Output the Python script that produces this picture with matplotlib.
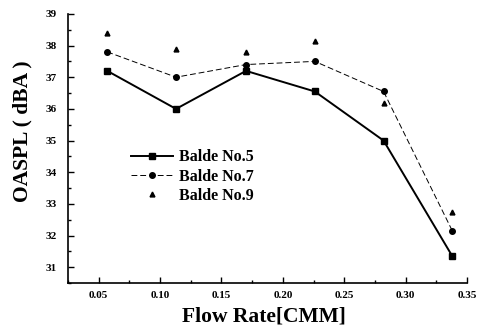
import matplotlib
matplotlib.use("Agg")
import matplotlib.pyplot as plt
from matplotlib.ticker import MultipleLocator

flow = [0.057, 0.113, 0.170, 0.226, 0.282, 0.338]
blade5 = [37.2, 36.0, 37.2, 36.55, 35.0, 31.35]
blade7 = [37.8, 37.0, 37.4, 37.5, 36.55, 32.15]
blade9 = [38.4, 37.9, 37.8, 38.15, 36.2, 32.75]
labels = ["Balde No.5", "Balde No.7", "Balde No.9"]

plt.rcParams['font.family'] = ['Liberation Serif', 'DejaVu Serif']
plt.rcParams['font.weight'] = 'bold'

fig = plt.figure(figsize=(4.82, 3.30), dpi=100)
ax = fig.add_axes([0.141, 0.142, 0.828, 0.816])

ax.plot(flow, blade5, '-s', color='black', lw=1.4, ms=4, label=labels[0])
ax.plot(flow, blade7, '--o', color='black', lw=0.7, ms=4, dashes=(6, 3), label=labels[1])
ax.plot(flow, blade9, '^', color='black', ms=3.5, linestyle='none', label=labels[2])

ax.set_xlim(0.025, 0.35)
ax.set_ylim(30.5, 39)
ax.xaxis.set_major_locator(MultipleLocator(0.05))
ax.xaxis.set_minor_locator(MultipleLocator(0.025))
ax.yaxis.set_major_locator(MultipleLocator(1))
ax.yaxis.set_minor_locator(MultipleLocator(0.5))
ax.set_xticks([0.05, 0.10, 0.15, 0.20, 0.25, 0.30, 0.35])
ax.set_xticklabels(["0.05", "0.10", "0.15", "0.20", "0.25", "0.30", "0.35"])
ax.tick_params(which='both', direction='in', labelsize=8, width=1)
ax.tick_params(which='major', length=4)
ax.tick_params(which='minor', length=2)
ax.tick_params(axis='y', pad=8)
ax.tick_params(axis='x', pad=6)
for lab in ax.get_xticklabels() + ax.get_yticklabels():
    lab.set_fontweight('bold')

ax.spines['top'].set_visible(False)
ax.spines['right'].set_visible(False)
ax.spines['left'].set_linewidth(1.2)
ax.spines['bottom'].set_linewidth(1.2)

ax.set_xlabel("Flow Rate[CMM]", fontsize=15.5, fontweight='bold', va='center')
ax.xaxis.set_label_coords(0.49, -0.123)
ax.set_ylabel("OASPL ( dBA )", fontsize=15.5, fontweight='bold', va='center')
ax.yaxis.set_label_coords(-0.115, 0.565)

leg = ax.legend(loc='upper left', bbox_to_anchor=(0.122, 0.55), frameon=False,
                prop={'weight': 'bold', 'size': 11.5}, handlelength=2.6,
                handletextpad=0.4, labelspacing=0.2)

fig.savefig("out.png", dpi=100)
